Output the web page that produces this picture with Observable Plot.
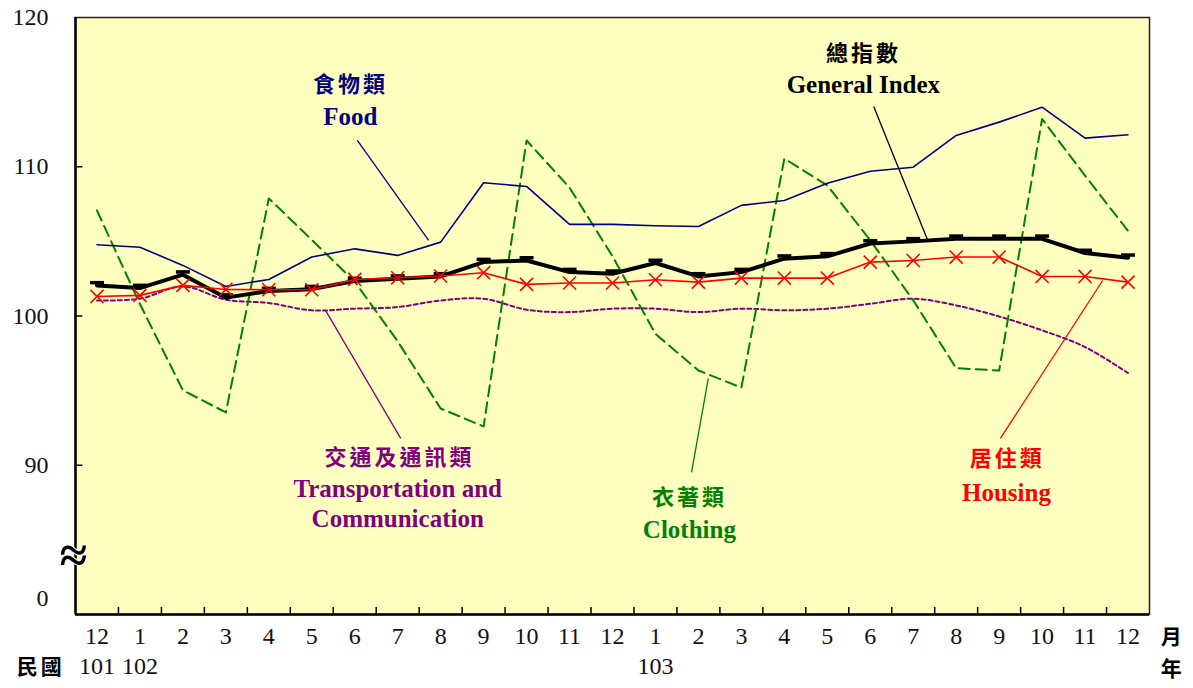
<!DOCTYPE html>
<html><head><meta charset="utf-8">
<script src="https://cdn.jsdelivr.net/npm/d3@7"></script>
<script src="https://cdn.jsdelivr.net/npm/@observablehq/plot@0.6"></script>
<style>body{margin:0;background:#fff} svg{display:block}</style>
</head><body><div id="chart"></div>
<script>
// ---- data ----
const months = ["12","1","2","3","4","5","6","7","8","9","10","11","12","1","2","3","4","5","6","7","8","9","10","11","12"];
const yearLabels = [{i:0,t:"101"},{i:1,t:"102"},{i:13,t:"103"}];
const general   = [102.05,101.87,102.77,101.23,101.67,101.8,102.34,102.5,102.65,103.61,103.72,102.94,102.83,103.55,102.65,102.94,103.84,104.0,104.86,105.0,105.17,105.17,105.17,104.22,103.9];
const food      = [104.77,104.61,103.39,101.98,102.45,103.95,104.5,104.06,104.95,108.93,108.68,106.14,106.14,106.05,106.0,107.41,107.74,108.9,109.7,109.97,112.1,112.99,113.99,111.92,112.14];
const clothing  = [107.07,100.8,95.02,93.54,107.88,105.1,102.3,98.3,93.8,92.6,111.76,108.6,104.0,98.8,96.35,95.2,110.55,108.75,105.07,101.05,96.5,96.35,113.2,109.4,105.7];
const housing   = [101.31,101.38,102.05,101.78,101.76,101.76,102.45,102.56,102.68,102.9,102.12,102.21,102.21,102.43,102.27,102.54,102.54,102.54,103.61,103.72,103.95,103.95,102.65,102.65,102.27];
const transport = [101.04,101.16,101.98,101.09,100.87,100.38,100.49,100.6,101.04,101.16,100.42,100.26,100.49,100.49,100.26,100.49,100.38,100.49,100.82,101.16,100.71,99.97,99.04,97.92,96.18];
const yLabels = [{v:120,t:"120"},{v:110,t:"110"},{v:100,t:"100"},{v:90,t:"90"},{v:81.1,t:"0"}];
const yTickVals = [90,100,110];
const xTickVals = d3.range(0.5, 24, 1);
const annoCJK = [
  {i:5.9,  v:115.45, t:"食物類", c:"#000080"},
  {i:17.84,v:117.55, t:"總指數", c:"#000000"},
  {i:7.04, v:90.46,  t:"交通及通訊類", c:"#800080"},
  {i:13.79,v:87.78,  t:"衣著類", c:"#008000"},
  {i:21.19,v:90.40,  t:"居住類", c:"#ff0000"}
];
const annoEN = [
  {i:5.9,  v:113.3,  t:"Food", c:"#000080"},
  {i:17.84,v:115.45, t:"General Index", c:"#000000"},
  {i:7.0,  v:88.39,  t:"Transportation and", c:"#800080"},
  {i:7.0,  v:86.38,  t:"Communication", c:"#800080"},
  {i:13.79,v:85.64,  t:"Clothing", c:"#008000"},
  {i:21.17,v:88.12,  t:"Housing", c:"#ff0000"}
];
const leaders = [
  {i1:6.06, v1:111.76, i2:7.72, v2:105.06, c:"#000080"},
  {i1:18.08,v1:114.04, i2:19.33,v2:105.13, c:"#000000"},
  {i1:7.07, v1:91.80,  i2:5.32, v2:100.38, c:"#800080"},
  {i1:13.84,v1:89.52,  i2:14.23,v2:95.82,  c:"#008000"},
  {i1:21.03,v1:91.8,   i2:23.41,v2:102.38, c:"#ff0000"}
];

const rows = a => a.map((v,i)=>({i, v}));
const serif = "'Liberation Serif','Times New Roman',serif";
const cjk = "'Noto Sans CJK TC','Noto Sans CJK SC',sans-serif";
const dashSymbol = {draw(ctx){ ctx.moveTo(-7,-4.5); ctx.lineTo(7,-4.5); ctx.lineTo(7,-1); ctx.lineTo(-7,-1); ctx.closePath(); }};

const chart = Plot.plot({
  width:1193, height:688,
  marginLeft:75, marginRight:44, marginTop:17, marginBottom:74,
  x:{type:"linear", domain:[-0.5,24.5], axis:null},
  y:{domain:[80,120], axis:null},
  style:{fontFamily:serif, background:"#fff", overflow:"visible"},
  marks:[
    Plot.frame({fill:"#FFFFC0", stroke:null}),
    Plot.line(rows(transport), {x:"i", y:"v", stroke:"#800080", strokeWidth:2, strokeDasharray:"4,3", curve:"catmull-rom"}),
    Plot.line(rows(clothing), {x:"i", y:"v", stroke:"#008000", strokeWidth:2, strokeDasharray:"11,6"}),
    Plot.line(rows(food), {x:"i", y:"v", stroke:"#000080", strokeWidth:1.6}),
    Plot.line(rows(general), {x:"i", y:"v", stroke:"#000", strokeWidth:4}),
    Plot.dot(rows(general), {x:"i", y:"v", symbol:dashSymbol, fill:"#000", stroke:null}),
    Plot.line(rows(housing), {x:"i", y:"v", stroke:"#ff0000", strokeWidth:1.6}),
    Plot.dot(rows(housing), {x:"i", y:"v", symbol:"times", r:6, stroke:"#ff0000", strokeWidth:1.6}),
    Plot.link(leaders, {x1:"i1", y1:"v1", x2:"i2", y2:"v2", stroke:"c", strokeWidth:1.3}),
    Plot.frame({stroke:"#222", strokeWidth:1.5}),
    Plot.ruleX([-0.5], {stroke:"#000", strokeWidth:2.5}),
    Plot.ruleY([80], {stroke:"#000", strokeWidth:2.5}),
    Plot.ruleX(xTickVals, {y1:80, y2:80.47, stroke:"#000", strokeWidth:1.5}),
    Plot.ruleY(yTickVals, {x1:-0.5, x2:-0.33, stroke:"#000", strokeWidth:1.5}),
    Plot.text(yLabels, {y:"v", text:"t", frameAnchor:"left", dx:-27, textAnchor:"end", fontSize:24, fill:"#111"}),
    Plot.text(["≈"], {y:()=>83.9, text:d=>d, frameAnchor:"left", textAnchor:"middle", dx:-2, fontSize:50, fontWeight:"bold", fill:"#000", stroke:"#fff", strokeWidth:2, paintOrder:"stroke"}),
    Plot.text(months, {x:(d,i)=>i, text:d=>d, frameAnchor:"bottom", dy:29, fontSize:24, fill:"#111"}),
    Plot.text(yearLabels, {x:"i", text:"t", frameAnchor:"bottom", dy:59, fontSize:24, fill:"#111"}),
    Plot.text(["民國"], {x:()=>-1.31, text:d=>d, frameAnchor:"bottom", dy:59, fontFamily:cjk, fontWeight:"bold", fontSize:21, fill:"#000"}),
    Plot.text(["月"], {x:()=>25.04, text:d=>d, frameAnchor:"bottom", dy:29, fontFamily:cjk, fontWeight:"bold", fontSize:21, fill:"#000"}),
    Plot.text(["年"], {x:()=>25.04, text:d=>d, frameAnchor:"bottom", dy:61, fontFamily:cjk, fontWeight:"bold", fontSize:21, fill:"#000"}),
    Plot.text(annoCJK, {x:"i", y:"v", text:"t", fill:"c", fontFamily:cjk, fontWeight:"bold", fontSize:22}),
    Plot.text(annoEN, {x:"i", y:"v", text:"t", fill:"c", fontFamily:serif, fontWeight:"bold", fontSize:25})
  ]
});
d3.select(chart).selectAll("text").each(function(){
  if (/[\u4e00-\u9fff]/.test(this.textContent)) d3.select(this).attr("letter-spacing","3px");
});
document.getElementById("chart").appendChild(chart);
</script>
</body></html>
